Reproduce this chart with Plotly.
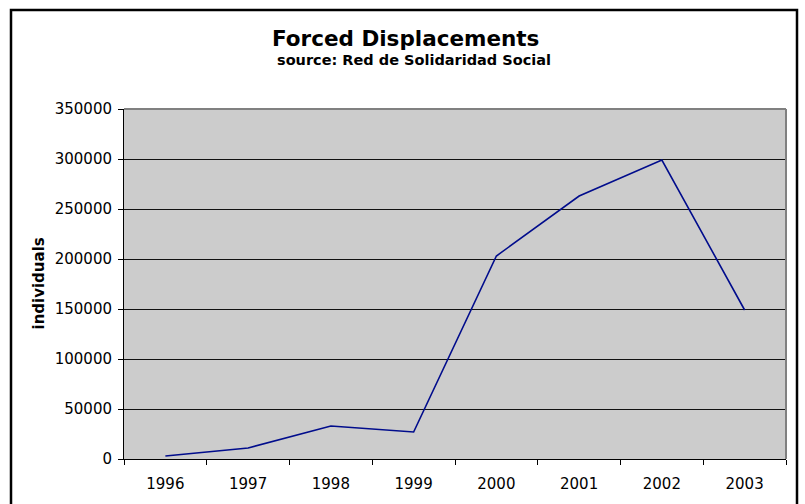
import plotly.graph_objects as go

years = ["1996", "1997", "1998", "1999", "2000", "2001", "2002", "2003"]
individuals = [3000, 11000, 33000, 27000, 203000, 263000, 299000, 149000]
y_ticks = [0, 50000, 100000, 150000, 200000, 250000, 300000, 350000]

L, R, T, B = 124, 19, 109, 45
W, H = 805, 504
pw, ph = W - L - R, H - T - B

def px_x(x):
    return (x - L) / pw

def px_y(y):
    return (H - B - y) / ph

fig = go.Figure()
fig.add_trace(go.Scatter(x=years, y=individuals, mode="lines",
                         line=dict(color="#000c8c", width=1.6),
                         hoverinfo="x+y"))

fig.update_layout(
    width=W, height=H,
    margin=dict(l=L, r=R, t=T, b=B, pad=0),
    paper_bgcolor="white",
    plot_bgcolor="#cccccc",
    showlegend=False,
    font=dict(family="DejaVu Sans, Verdana, sans-serif", color="black", size=15),
    xaxis=dict(type="category", range=[-0.5, 7.5], tickson="boundaries", ticks="outside", ticklen=5,
               tickcolor="black", showline=True, linecolor="black", linewidth=1,
               showgrid=False, tickfont=dict(size=15), ticklabelstandoff=11, automargin=False),
    yaxis=dict(range=[0, 350000], tickvals=y_ticks, ticktext=[str(v) for v in y_ticks],
               ticks="outside", ticklen=5, tickcolor="black", showline=True,
               linecolor="black", linewidth=1, showgrid=True, gridcolor="#111111",
               gridwidth=1, zeroline=False, tickfont=dict(size=15),
               ticklabelstandoff=3, automargin=False),
    annotations=[
        dict(text="<b>Forced Displacements</b>", x=px_x(405), y=px_y(38), xref="paper", yref="paper",
             showarrow=False, font=dict(size=21.5), xanchor="center", yanchor="middle"),
        dict(text="<b>source: Red de Solidaridad Social</b>", x=px_x(414), y=px_y(60), xref="paper", yref="paper",
             showarrow=False, font=dict(size=14.5), xanchor="center", yanchor="middle"),
        dict(text="<b>individuals</b>", x=px_x(38.5), y=px_y(284), xref="paper", yref="paper",
             showarrow=False, font=dict(size=15), textangle=-90, xanchor="center", yanchor="middle"),
    ],
    shapes=[
        dict(type="line", xref="paper", yref="paper", x0=0, x1=1, y0=1, y1=1,
             line=dict(color="#808080", width=2)),
        dict(type="line", xref="paper", yref="paper", x0=1, x1=1, y0=0, y1=1,
             line=dict(color="#808080", width=2)),
        dict(type="rect", xref="paper", yref="paper", x0=px_x(11), x1=px_x(797),
             y0=px_y(520), y1=px_y(10), line=dict(color="black", width=2.5), layer="above"),
    ],
)

fig.write_html("out.html")
